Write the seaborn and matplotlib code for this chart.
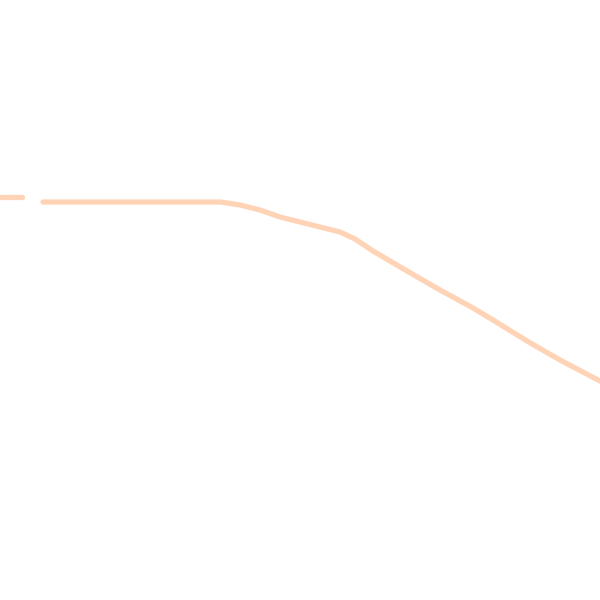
import seaborn as sns
import matplotlib.pyplot as plt
import pandas as pd

x_vals = [0, 22,
          43, 100, 150, 200, 220, 240, 260, 280, 300, 320, 340, 355, 373,
          407, 440, 473, 493, 527, 560, 600]
y_vals = [403, 403,
          398, 398, 398, 398, 398, 395, 390, 383, 378, 373, 368, 361, 349,
          329, 310, 292, 280, 259, 240, 219]
segment = [0, 0] + [1] * 20

df = pd.DataFrame({"x": x_vals, "y": y_vals, "seg": segment})

sns.set_style("white")
fig = plt.figure(figsize=(6, 6), dpi=100)
ax = fig.add_axes([0, 0, 1, 1])
sns.lineplot(data=df, x="x", y="y", units="seg", estimator=None,
             color="#ffd3b6", linewidth=3.8, ax=ax)
ax.set_xlim(0, 600)
ax.set_ylim(0, 600)
ax.axis("off")
fig.savefig("out.png", dpi=100)
